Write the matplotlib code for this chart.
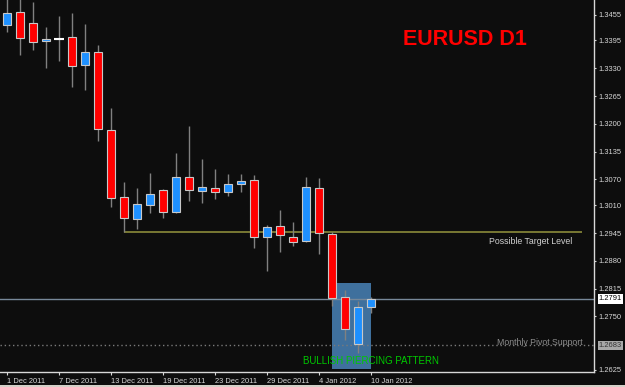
import matplotlib
matplotlib.use("Agg")
import matplotlib.pyplot as plt
from matplotlib.patches import Rectangle


dates = ["2011-12-01", "2011-12-02", "2011-12-05", "2011-12-06", "2011-12-07", "2011-12-08",
         "2011-12-09", "2011-12-12", "2011-12-13", "2011-12-14", "2011-12-15", "2011-12-16",
         "2011-12-19", "2011-12-20", "2011-12-21", "2011-12-22", "2011-12-23", "2011-12-26",
         "2011-12-27", "2011-12-28", "2011-12-29", "2011-12-30", "2012-01-02", "2012-01-03",
         "2012-01-04", "2012-01-05", "2012-01-06", "2012-01-09", "2012-01-10"]

opens = [1.3431, 1.3461, 1.3436, 1.3394, 1.3398, 1.3403, 1.3338, 1.3368, 1.3186, 1.3029,
         1.2978, 1.3010, 1.3046, 1.2994, 1.3076, 1.3043, 1.3050, 1.3041, 1.3060, 1.3069,
         1.2936, 1.2961, 1.2936, 1.2926, 1.3050, 1.2943, 1.2796, 1.2686, 1.2772]
highs = [1.3494, 1.3496, 1.3485, 1.3426, 1.3452, 1.3459, 1.3433, 1.3384, 1.3237, 1.3064,
         1.3050, 1.3085, 1.3048, 1.3132, 1.3195, 1.3118, 1.3095, 1.3083, 1.3083, 1.3081,
         1.2964, 1.2999, 1.2971, 1.3076, 1.3074, 1.2947, 1.2812, 1.2786, 1.2796]
lows = [1.3415, 1.3361, 1.3373, 1.3331, 1.3347, 1.3286, 1.3279, 1.3160, 1.3006, 1.2947,
        1.2954, 1.2992, 1.2980, 1.2992, 1.3020, 1.3015, 1.3024, 1.3031, 1.3041, 1.2910,
        1.2856, 1.2901, 1.2915, 1.2924, 1.2896, 1.2775, 1.2695, 1.2665, 1.2758]
closes = [1.3459, 1.3401, 1.3391, 1.3398, 1.3398, 1.3335, 1.3368, 1.3188, 1.3027, 1.2980,
          1.3013, 1.3036, 1.2994, 1.3076, 1.3046, 1.3053, 1.3041, 1.3060, 1.3067, 1.2936,
          1.2959, 1.2940, 1.2924, 1.3053, 1.2945, 1.2793, 1.2721, 1.2772, 1.2791]

price_ticks = [1.3455, 1.3395, 1.3330, 1.3265, 1.3200, 1.3135, 1.3070, 1.3010, 1.2945,
               1.2880, 1.2815, 1.2750, 1.2625]
date_labels = ["1 Dec 2011", "7 Dec 2011", "13 Dec 2011", "19 Dec 2011", "23 Dec 2011",
               "29 Dec 2011", "4 Jan 2012", "10 Jan 2012"]

target_level = 1.2947
bid_price = 1.2791
pivot_support = 1.2683
pattern_top = 1.2828
pattern_bottom = 1.2627

BG = "#0d0d0d"
UP = "#1e90ff"
DOWN = "#ff0000"
FONT = "Liberation Sans"


def main() -> None:
    plt.rcParams["font.family"] = [FONT, "DejaVu Sans"]

    fig = plt.figure(figsize=(6.25, 3.87), dpi=100, facecolor=BG)
    ax = fig.add_axes([0, 15 / 387, 594 / 625, 372 / 387], facecolor=BG)

    x = list(range(len(dates)))

    # highlighted pattern zone
    ax.add_patch(Rectangle((25, pattern_bottom), 3, pattern_top - pattern_bottom,
                           facecolor="#3f709d", edgecolor="none", zorder=1))

    ax.hlines(target_level, 9, 44.2, color="#8b8b3a", lw=1.2, zorder=1.5)
    ax.axhline(bid_price, color="#778899", lw=1, zorder=1.5)
    ax.axhline(pivot_support, color="#7a7a7a", lw=1, ls=(0, (1, 2)), zorder=1.5)

    ax.vlines(x, lows, highs, color="#808080", lw=1, zorder=2)
    bottoms = [min(o, c) for o, c in zip(opens, closes)]
    heights = [abs(c - o) for o, c in zip(opens, closes)]
    colors = [UP if c > o else DOWN for o, c in zip(opens, closes)]
    ax.bar(x, heights, width=0.69, bottom=bottoms, color=colors,
           edgecolor="#c8c8c8", linewidth=0.8, zorder=3)
    for xi, o, c in zip(x, opens, closes):
        if o == c:
            ax.hlines(o, xi - 0.35, xi + 0.35, color="white", lw=1.5, zorder=4)

    ax.set_xlim(-7 / 13, 587 / 13)
    ax.set_ylim(1.26203, 1.34893)

    ax.yaxis.tick_right()
    ax.set_yticks(price_ticks)
    ax.set_yticklabels([f"{p:.4f}" for p in price_ticks])
    ax.set_xticks(x[::4])
    ax.set_xticklabels(date_labels, ha="left")
    ax.tick_params(axis="y", colors="#d8d8d8", labelsize=5.4, length=1.5, width=0.8, pad=1.5)
    ax.tick_params(axis="x", colors="#d8d8d8", labelsize=5.4, length=2, width=0.8, pad=2)
    for side in ("left", "top"):
        ax.spines[side].set_visible(False)
    for side in ("right", "bottom"):
        ax.spines[side].set_color("#d8d8d8")
        ax.spines[side].set_linewidth(1)

    ytrans = ax.get_yaxis_transform()
    ax.text(1.008, bid_price, f"{bid_price:.4f}", transform=ytrans, fontsize=5.4,
            color="black", va="center", ha="left",
            bbox=dict(boxstyle="square,pad=0.15", facecolor="white", edgecolor="none"))
    ax.text(1.008, pivot_support, f"{pivot_support:.4f}", transform=ytrans, fontsize=5.4,
            color="#333333", va="center", ha="left",
            bbox=dict(boxstyle="square,pad=0.15", facecolor="#a8a8a8", edgecolor="none"))

    ax.text(30.45, 1.3396, "EURUSD D1", color="#ff0000", fontsize=15.5,
            fontweight="bold", va="center", ha="left")
    ax.text(43.46, 1.2925, "Possible Target Level", color="#d0d0d0", fontsize=6.3,
            va="center", ha="right")
    ax.text(44.3, 1.2690, "Monthly Pivot Support", color="#8c8c8c", fontsize=6.3,
            va="center", ha="right")
    ax.text(22.77, 1.2646, "BULLISH PIERCING PATTERN", color="#00c800", fontsize=7,
            va="center", ha="left", zorder=5)

    fig.patches.append(Rectangle((0, 0), 1, 2.5 / 387, transform=fig.transFigure,
                                 facecolor="#d4d0c8", edgecolor="none"))

    fig.savefig("out.png", dpi=100, facecolor=BG)
    plt.close(fig)


if __name__ == "__main__":
    main()
